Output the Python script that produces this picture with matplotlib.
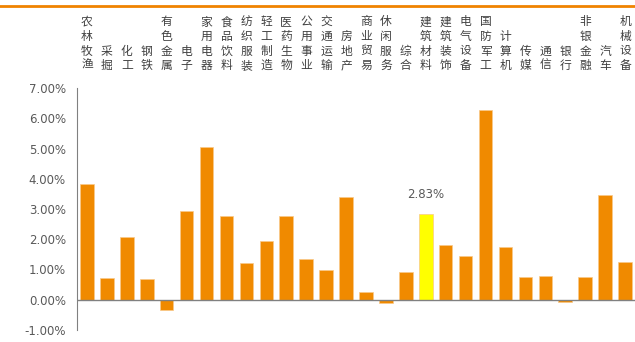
import matplotlib
matplotlib.use("Agg")
import matplotlib.pyplot as plt
from matplotlib.lines import Line2D
from matplotlib.ticker import FuncFormatter, MultipleLocator

plt.rcParams['font.family'] = ['Noto Sans CJK SC', 'DejaVu Sans']

categories = ['农林牧渔', '采掘', '化工', '钢铁', '有色金属', '电子', '家用电器', '食品饮料',
              '纺织服装', '轻工制造', '医药生物', '公用事业', '交通运输', '房地产', '商业贸易',
              '休闲服务', '综合', '建筑材料', '建筑装饰', '电气设备', '国防军工', '计算机',
              '传媒', '通信', '银行', '非银金融', '汽车', '机械设备']
values = [3.84, 0.72, 2.08, 0.69, -0.33, 2.93, 5.05, 2.76, 1.22, 1.93, 2.76, 1.36, 0.99,
          3.39, 0.27, -0.10, 0.91, 2.83, 1.82, 1.44, 6.26, 1.74, 0.75, 0.79, -0.07, 0.75,
          3.47, 1.24]
highlight = '建筑材料'

orange = '#F08A00'
yellow = '#FFFF00'
gray = '#595959'

fig = plt.figure(figsize=(6.35, 3.42), dpi=100)
ax = fig.add_axes([77/635, 12/342, 558/635, 242/342])

x = list(range(len(categories)))
colors = [yellow if c == highlight else orange for c in categories]
ax.bar(x, values, width=0.68, color=colors, edgecolor='#F9C98A', linewidth=0.5, zorder=2)

ax.set_xlim(-0.5, len(categories) - 0.5)
ax.set_ylim(-1, 7)
ax.yaxis.set_major_locator(MultipleLocator(1))
ax.yaxis.set_major_formatter(FuncFormatter(lambda v, p: f'{v:.2f}%'))
ax.tick_params(axis='y', length=0, labelsize=8.5, labelcolor=gray, pad=8)
for lab in ax.get_yticklabels():
    lab.set_family('DejaVu Sans')
ax.set_xticks([])
for s in ['top', 'right', 'bottom']:
    ax.spines[s].set_visible(False)
ax.spines['left'].set_color('#808080')
ax.axhline(0, color='#808080', linewidth=1, zorder=3)

# value label on highlighted bar
i = categories.index(highlight)
ax.text(i, values[i] + 0.42, f'{values[i]:.2f}%', ha='center', va='bottom',
        fontsize=8.5, color=gray, family='DejaVu Sans')

# vertical category labels at top
for xi, c in zip(x, categories):
    xf = ax.transData.transform((xi, 0))[0]
    xf = fig.transFigure.inverted().transform((xf, 0))[0]
    fig.text(xf, 1 - 72/342, '\n'.join(c), ha='center', va='bottom',
             fontsize=8.5, linespacing=1.15, color='#404040')

# orange line at top
fig.add_artist(Line2D([0, 1], [1 - 6/342, 1 - 6/342], transform=fig.transFigure,
                      color='#F08300', linewidth=2))

fig.savefig('out.png', dpi=100)
